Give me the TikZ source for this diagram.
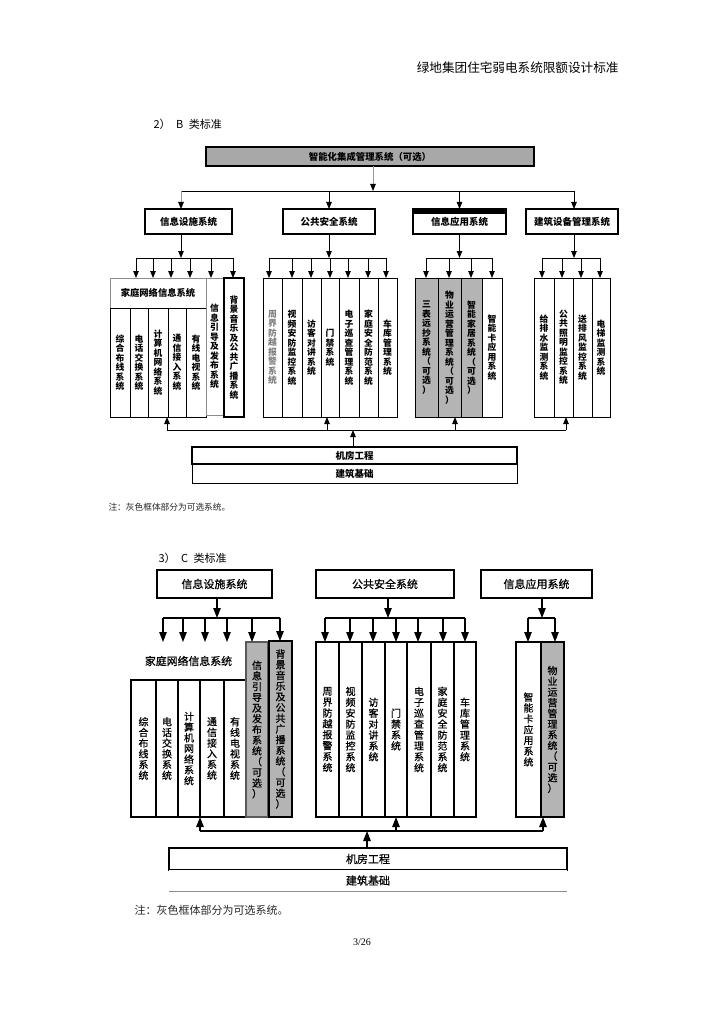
\documentclass[tikz,border=0pt]{standalone}
\usepackage{fontspec}
\setmainfont{Liberation Serif}
\newfontfamily\cjk{Noto Sans CJK SC}
\newfontfamily\cjkm[FakeBold=0.7]{Noto Sans CJK SC}
\usetikzlibrary{arrows.meta}
\definecolor{opt}{RGB}{180,180,180}
\definecolor{topg}{RGB}{168,168,168}
\makeatletter
\newcommand\vt[2][9.5pt]{\vbox{\baselineskip=#1\relax\lineskiplimit=-30pt\lineskip=0pt\@tfor\vch:=#2\do{\hbox{\vch}}}}
\makeatother
\newcommand\bx[7][]{\node[bx,minimum width={(#5-#3)*1pt},minimum height={(#6-#4)*1pt},#1] (#2) at (#3,#4) {#7};}
\tikzset{
  bx/.style={draw,line width=1pt,inner sep=0pt,outer sep=0pt,anchor=north west,fill=white},
  lvB/.style={font=\cjk\bfseries\fontsize{9.5}{11}\selectfont,line width=1.2pt},
  kB/.style={font=\cjk\bfseries\fontsize{8.8}{9.5}\selectfont,line width=1pt},
  lvC/.style={font=\cjkm\fontsize{11}{13}\selectfont,line width=1.2pt},
  kC/.style={font=\cjkm\fontsize{10}{10.7}\selectfont,line width=1.1pt},
  lnB/.style={line width=0.9pt},
  lnC/.style={line width=1.2pt},
  arrB/.style={lnB,-{Triangle[length=7pt,width=5.5pt]}},
  arrBg/.style={lnB,draw=black!40,-{Triangle[length=7pt,width=5.5pt,color=black]}},
  arrC/.style={lnC,-{Triangle[length=10pt,width=7.5pt]}},
}
\begin{document}
\begin{tikzpicture}[x=1pt,y=-1pt]
\fill[white] (0,0) rectangle (724,1024);
\useasboundingbox (0,0) rectangle (724,1024);

% header and titles
\node[font=\cjk\fontsize{12.6}{14}\selectfont,anchor=east] (hdr) at (622,68) {绿地集团住宅弱电系统限额设计标准};
\node[font=\cjk\fontsize{11}{13}\selectfont,anchor=west] (titB) at (150,124) {2）\hspace{0.5em}B\hspace{0.5em}类标准};
\node[font=\cjk\fontsize{11}{13}\selectfont,anchor=west] (titC) at (155,558) {3）\hspace{0.5em}C\hspace{0.5em}类标准};

% ================= B =================
\bx[fill=topg,font=\cjk\bfseries\fontsize{9.4}{11}\selectfont,line width=1.2pt]{topB}{206}{147}{534}{166}{智能化集成管理系统（可选）}

\bx[lvB]{lv1B}{145}{209}{232}{234}{信息设施系统}
\bx[lvB]{lv2B}{283}{209}{375}{234}{公共安全系统}
\bx[lvB]{lv3B}{413}{209}{506}{234}{信息应用系统}
\bx[lvB]{lv4B}{526}{209}{618}{234}{建筑设备管理系统}
\fill (lv3B.north west) rectangle ([yshift=-5pt]lv3B.north east);

% info facilities children
\bx[kB,draw=black!45,line width=0.7pt,font=\cjk\bfseries\fontsize{9.3}{11}\selectfont]{hjB}{110}{278}{206}{308}{家庭网络信息系统}
\bx[kB]{k1B}{110}{308}{130}{417}{\vt{综合布线系统}}
\bx[kB]{k2B}{130}{308}{148}{417}{\vt{电话交换系统}}
\bx[kB]{k3B}{148}{308}{168}{417}{\vt{计算机网络系统}}
\bx[kB]{k4B}{168}{308}{186}{417}{\vt{通信接入系统}}
\bx[kB]{k5B}{186}{308}{206}{417}{\vt{有线电视系统}}
\bx[kB,draw=black!45,line width=0.7pt]{xyB}{206}{278}{223}{415}{\vt{信息引导及发布系统}}
\bx[kB,line width=1.3pt]{bjB}{224}{278}{244}{417}{\vt{背景音乐及公共广播系统}}

% public security children
\bx[kB,text=black!50]{g1B}{263}{278}{282}{417}{\vt{周界防越报警系统}}
\bx[kB]{g2B}{282}{278}{302}{417}{\vt{视频安防监控系统}}
\bx[kB]{g3B}{302}{278}{321}{417}{\vt{访客对讲系统}}
\bx[kB]{g4B}{321}{278}{339}{417}{\vt{门禁系统}}
\bx[kB]{g5B}{339}{278}{359}{417}{\vt{电子巡查管理系统}}
\bx[kB]{g6B}{359}{278}{378}{417}{\vt{家庭安全防范系统}}
\bx[kB]{g7B}{378}{278}{397}{417}{\vt{车库管理系统}}

% info application children
\bx[kB,fill=opt]{y1B}{415}{278}{438}{417}{\vt{三表远抄系统（可选）}}
\bx[kB,fill=opt]{y2B}{438}{278}{461}{417}{\vt{物业运营管理系统（可选）}}
\bx[kB,fill=opt]{y3B}{461}{278}{482}{417}{\vt{智能家居系统（可选）}}
\bx[kB]{y4B}{482}{278}{502}{417}{\vt{智能卡应用系统}}

% building equipment children
\bx[kB]{s1B}{534}{278}{554}{417}{\vt{给排水监测系统}}
\bx[kB]{s2B}{554}{278}{573}{417}{\vt{公共照明监控系统}}
\bx[kB]{s3B}{573}{278}{592}{417}{\vt{送排风监控系统}}
\bx[kB]{s4B}{592}{278}{610}{417}{\vt{电梯监测系统}}

% base
\bx[lvB,line width=1.2pt]{jfB}{192}{447}{517}{464}{机房工程}
\bx[lvB,line width=1pt]{jzB}{192}{464}{517}{483}{建筑基础}

\node[font=\cjk\fontsize{8.7}{10}\selectfont,anchor=west,text=black!85] (noteB) at (105,507) {注：灰色框体部分为可选系统。};

% B connectors
\coordinate (cT) at (373,191);
\coordinate (cTl) at (181,191);
\coordinate (cTr) at (574,191);
\draw[arrBg] (cT |- topB.south) -- (cT);
\draw[lnB] (cTl) -- (cTr);
\draw[arrBg] (cTl) -- (cTl |- lv1B.north);
\draw[arrB] (lv2B.north |- cT) -- (lv2B.north);
\draw[arrB] (lv3B.north |- cT) -- (lv3B.north);
\draw[arrB] (cTr) -- (cTr |- lv4B.north);

\coordinate (a1) at (181,258);
\draw[arrB] (a1 |- lv1B.south) -- (a1);
\coordinate (a1l) at (136,258); \coordinate (a1r) at (233,258);
\draw[lnB] (a1l) -- (a1r);
\foreach \x/\n in {136/hjB,153/hjB,171/hjB,190/hjB,211/xyB,233/bjB}{
  \coordinate (t) at (\x,258); \draw[arrB] (t) -- (t |- \n.north);}

\draw[arrB] (lv2B.south) -- (lv2B.south |- a1);
\coordinate (a2l) at (269,258); \coordinate (a2r) at (386,258);
\draw[lnB] (a2l) -- (a2r);
\foreach \x/\n in {269/g1B,292/g2B,311/g3B,330/g4B,348/g5B,368/g6B,386/g7B}{
  \coordinate (t) at (\x,258); \draw[arrB] (t) -- (t |- \n.north);}

\draw[arrB] (lv3B.south) -- (lv3B.south |- a1);
\coordinate (a3l) at (426,258); \coordinate (a3r) at (492,258);
\draw[lnB] (a3l) -- (a3r);
\foreach \x/\n in {426/y1B,449/y2B,471/y3B,492/y4B}{
  \coordinate (t) at (\x,258); \draw[arrB] (t) -- (t |- \n.north);}

\coordinate (a4) at (574,258);
\draw[arrB] (a4 |- lv4B.south) -- (a4);
\coordinate (a4l) at (542,258); \coordinate (a4r) at (600,258);
\draw[lnB] (a4l) -- (a4r);
\foreach \x/\n in {542/s1B,562/s2B,581/s3B,600/s4B}{
  \coordinate (t) at (\x,258); \draw[arrB] (t) -- (t |- \n.north);}

\coordinate (bl) at (167,430); \coordinate (br) at (566,430);
\draw[lnB] (bl) -- (br);
\foreach \x/\n in {167/k3B,327/g4B,455/y2B,566/s2B}{
  \coordinate (t) at (\x,430); \draw[arrB] (t) -- (t |- \n.south);}
\coordinate (bc) at (353,430);
\draw[arrB] (bc |- jfB.north) -- (bc);

% ================= C =================
\bx[lvC]{lv1C}{157}{570}{272}{598}{信息设施系统}
\bx[lvC]{lv2C}{316}{570}{454}{598}{公共安全系统}
\bx[lvC]{lv3C}{481}{570}{592}{598}{信息应用系统}

\bx[kC,draw=none,font=\cjkm\fontsize{10.9}{12}\selectfont]{hjC}{131}{642}{246}{680}{家庭网络信息系统}
\bx[kC]{k1C}{131}{680}{156}{817}{\vt[10.7pt]{综合布线系统}}
\bx[kC]{k2C}{156}{680}{178}{817}{\vt[10.7pt]{电话交换系统}}
\bx[kC]{k3C}{178}{680}{200}{817}{\vt[10.7pt]{计算机网络系统}}
\bx[kC]{k4C}{200}{680}{224}{817}{\vt[10.7pt]{通信接入系统}}
\bx[kC]{k5C}{224}{680}{246}{817}{\vt[10.7pt]{有线电视系统}}
\bx[kC,fill=opt,draw=black!65]{xyC}{246}{642}{268}{817}{\vt[10.7pt]{信息引导及发布系统（可选）}}
\bx[kC,fill=opt,line width=1.3pt]{bjC}{269}{641}{292}{817}{\vt[10.7pt]{背景音乐及公共广播系统（可选）}}

\bx[kC]{g1C}{316}{642}{339}{817}{\vt[10.9pt]{周界防越报警系统}}
\bx[kC]{g2C}{339}{642}{362}{817}{\vt[10.9pt]{视频安防监控系统}}
\bx[kC]{g3C}{362}{642}{385}{817}{\vt[10.9pt]{访客对讲系统}}
\bx[kC]{g4C}{385}{642}{407}{817}{\vt[10.9pt]{门禁系统}}
\bx[kC]{g5C}{407}{642}{431}{817}{\vt[10.9pt]{电子巡查管理系统}}
\bx[kC]{g6C}{431}{642}{454}{817}{\vt[10.9pt]{家庭安全防范系统}}
\bx[kC]{g7C}{454}{642}{476}{817}{\vt[10.9pt]{车库管理系统}}

\bx[kC]{y1C}{516}{642}{541}{817}{\vt[10.8pt]{智能卡应用系统}}
\bx[kC,fill=opt]{y2C}{541}{642}{564}{817}{\vt[10.7pt]{物业运营管理系统（可选）}}

\bx[lvC]{jfC}{169}{848}{567}{870}{机房工程}
\bx[lvC,draw=none]{jzC}{169}{870}{567}{891}{建筑基础}
\draw[black!45,line width=0.8pt] (jzC.south west) -- (jzC.south east);

\node[font=\cjk\fontsize{11}{13}\selectfont,anchor=west,text=black!85] (noteC) at (131,910) {注：灰色框体部分为可选系统。};
\node[font=\fontsize{10}{12}\selectfont] (pg) at (362,942) {3/26};

% C connectors
\coordinate (c1) at (217,618);
\draw[arrC] (c1 |- lv1C.south) -- (c1);
\coordinate (c1l) at (163,618); \coordinate (c1r) at (280,618);
\draw[lnC] (c1l) -- (c1r);
\foreach \x/\n in {163/hjC,183/hjC,205/hjC,227/hjC,252/xyC,280/bjC}{
  \coordinate (t) at (\x,618); \draw[arrC] (t) -- (t |- \n.north);}

\coordinate (c2) at (388,618);
\draw[arrC] (c2 |- lv2C.south) -- (c2);
\coordinate (c2l) at (325,618); \coordinate (c2r) at (465,618);
\draw[lnC] (c2l) -- (c2r);
\foreach \x/\n in {325/g1C,350/g2C,373/g3C,396/g4C,418/g5C,443/g6C,465/g7C}{
  \coordinate (t) at (\x,618); \draw[arrC] (t) -- (t |- \n.north);}

\coordinate (c3) at (542,618);
\draw[arrC] (c3 |- lv3C.south) -- (c3);
\coordinate (c3l) at (528,618); \coordinate (c3r) at (555,618);
\draw[lnC] (c3l) -- (c3r);
\foreach \x/\n in {528/y1C,555/y2C}{
  \coordinate (t) at (\x,618); \draw[arrC] (t) -- (t |- \n.north);}

\coordinate (dl) at (200,831); \coordinate (dr) at (543,831);
\draw[lnC] (dl) -- (dr);
\foreach \x/\n in {200/k3C,396/g4C,543/y2C}{
  \coordinate (t) at (\x,831); \draw[arrC] (t) -- (t |- \n.south);}
\coordinate (dc) at (367,831);
\draw[arrC] (dc |- jfC.north) -- (dc);
\end{tikzpicture}
\end{document}
